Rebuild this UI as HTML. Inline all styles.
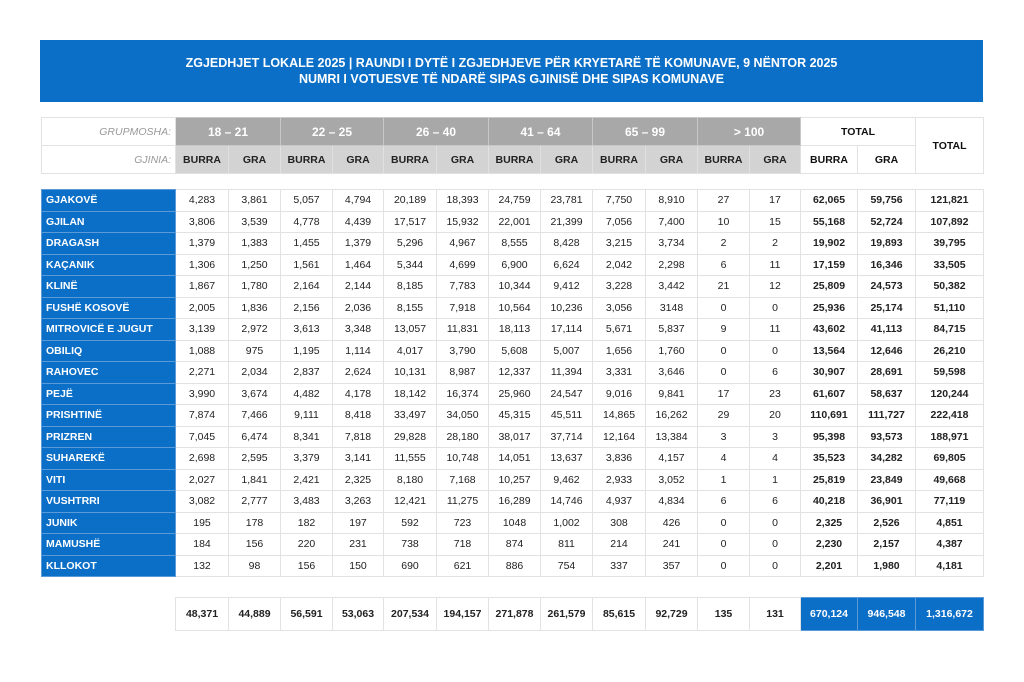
<!DOCTYPE html>
<html><head><meta charset="utf-8"><style>
body{margin:0;width:1024px;height:682px;background:#fff;font-family:"Liberation Sans",sans-serif;position:relative;overflow:hidden}
.title{position:absolute;left:40px;top:40px;width:943px;height:62px;background:#0b6fc7;color:#fff;font-weight:bold;font-size:12.5px;text-align:center;line-height:16px;box-sizing:border-box;padding-top:15px}
table{position:absolute;left:41px;border-collapse:collapse;table-layout:fixed;font-size:10.5px}
td{border:1px solid #e2e2e2;text-align:center;padding:0;overflow:hidden;white-space:nowrap}
.hd td{height:27px}
.g1{background:#a8a8a8;color:#fff;font-weight:bold;font-size:12px;border-color:#c8c8c8}
.g2{background:#d3d3d3;color:#222;font-weight:bold;border-color:#e0e0e0}
.lab{color:#999;font-style:italic;text-align:right;padding-right:4px}
.tb{font-weight:bold;color:#111}
.dt td{height:20.5px;color:#222}
.dt td.n{background:#0b6fc7;color:#fff;font-weight:bold;text-align:left;padding-left:4px;border-color:#5a9ad8}
.b{font-weight:bold}
.tot td{height:32px;font-weight:bold;color:#222}
.tot td.bl{background:#0b6fc7;color:#fff;border-color:#5a9ad8}
</style></head><body>
<div class="title">ZGJEDHJET LOKALE 2025 | RAUNDI I DYTË I ZGJEDHJEVE PËR KRYETARË TË KOMUNAVE, 9 NËNTOR 2025<br>NUMRI I VOTUESVE TË NDARË SIPAS GJINISË DHE SIPAS KOMUNAVE</div>
<table class="hd" style="top:117px">
<colgroup><col style="width:134px"><col style="width:53px"><col style="width:52px"><col style="width:52px"><col style="width:51px"><col style="width:53px"><col style="width:52px"><col style="width:52px"><col style="width:52px"><col style="width:53px"><col style="width:52px"><col style="width:52px"><col style="width:51px"><col style="width:57px"><col style="width:58px"><col style="width:68px"></colgroup>
<tr><td class="lab">GRUPMOSHA:</td><td class="g1" colspan="2">18 – 21</td><td class="g1" colspan="2">22 – 25</td><td class="g1" colspan="2">26 – 40</td><td class="g1" colspan="2">41 – 64</td><td class="g1" colspan="2">65 – 99</td><td class="g1" colspan="2">&gt; 100</td><td class="tb" colspan="2">TOTAL</td><td class="tb" rowspan="2">TOTAL</td></tr>
<tr><td class="lab">GJINIA:</td><td class="g2">BURRA</td><td class="g2">GRA</td><td class="g2">BURRA</td><td class="g2">GRA</td><td class="g2">BURRA</td><td class="g2">GRA</td><td class="g2">BURRA</td><td class="g2">GRA</td><td class="g2">BURRA</td><td class="g2">GRA</td><td class="g2">BURRA</td><td class="g2">GRA</td><td class="tb">BURRA</td><td class="tb">GRA</td></tr>
</table>
<table class="dt" style="top:189px">
<colgroup><col style="width:134px"><col style="width:53px"><col style="width:52px"><col style="width:52px"><col style="width:51px"><col style="width:53px"><col style="width:52px"><col style="width:52px"><col style="width:52px"><col style="width:53px"><col style="width:52px"><col style="width:52px"><col style="width:51px"><col style="width:57px"><col style="width:58px"><col style="width:68px"></colgroup>
<tr><td class="n">GJAKOVË</td><td>4,283</td><td>3,861</td><td>5,057</td><td>4,794</td><td>20,189</td><td>18,393</td><td>24,759</td><td>23,781</td><td>7,750</td><td>8,910</td><td>27</td><td>17</td><td class="b">62,065</td><td class="b">59,756</td><td class="b">121,821</td></tr>
<tr><td class="n">GJILAN</td><td>3,806</td><td>3,539</td><td>4,778</td><td>4,439</td><td>17,517</td><td>15,932</td><td>22,001</td><td>21,399</td><td>7,056</td><td>7,400</td><td>10</td><td>15</td><td class="b">55,168</td><td class="b">52,724</td><td class="b">107,892</td></tr>
<tr><td class="n">DRAGASH</td><td>1,379</td><td>1,383</td><td>1,455</td><td>1,379</td><td>5,296</td><td>4,967</td><td>8,555</td><td>8,428</td><td>3,215</td><td>3,734</td><td>2</td><td>2</td><td class="b">19,902</td><td class="b">19,893</td><td class="b">39,795</td></tr>
<tr><td class="n">KAÇANIK</td><td>1,306</td><td>1,250</td><td>1,561</td><td>1,464</td><td>5,344</td><td>4,699</td><td>6,900</td><td>6,624</td><td>2,042</td><td>2,298</td><td>6</td><td>11</td><td class="b">17,159</td><td class="b">16,346</td><td class="b">33,505</td></tr>
<tr><td class="n">KLINË</td><td>1,867</td><td>1,780</td><td>2,164</td><td>2,144</td><td>8,185</td><td>7,783</td><td>10,344</td><td>9,412</td><td>3,228</td><td>3,442</td><td>21</td><td>12</td><td class="b">25,809</td><td class="b">24,573</td><td class="b">50,382</td></tr>
<tr><td class="n">FUSHË KOSOVË</td><td>2,005</td><td>1,836</td><td>2,156</td><td>2,036</td><td>8,155</td><td>7,918</td><td>10,564</td><td>10,236</td><td>3,056</td><td>3148</td><td>0</td><td>0</td><td class="b">25,936</td><td class="b">25,174</td><td class="b">51,110</td></tr>
<tr><td class="n">MITROVICË E JUGUT</td><td>3,139</td><td>2,972</td><td>3,613</td><td>3,348</td><td>13,057</td><td>11,831</td><td>18,113</td><td>17,114</td><td>5,671</td><td>5,837</td><td>9</td><td>11</td><td class="b">43,602</td><td class="b">41,113</td><td class="b">84,715</td></tr>
<tr><td class="n">OBILIQ</td><td>1,088</td><td>975</td><td>1,195</td><td>1,114</td><td>4,017</td><td>3,790</td><td>5,608</td><td>5,007</td><td>1,656</td><td>1,760</td><td>0</td><td>0</td><td class="b">13,564</td><td class="b">12,646</td><td class="b">26,210</td></tr>
<tr><td class="n">RAHOVEC</td><td>2,271</td><td>2,034</td><td>2,837</td><td>2,624</td><td>10,131</td><td>8,987</td><td>12,337</td><td>11,394</td><td>3,331</td><td>3,646</td><td>0</td><td>6</td><td class="b">30,907</td><td class="b">28,691</td><td class="b">59,598</td></tr>
<tr><td class="n">PEJË</td><td>3,990</td><td>3,674</td><td>4,482</td><td>4,178</td><td>18,142</td><td>16,374</td><td>25,960</td><td>24,547</td><td>9,016</td><td>9,841</td><td>17</td><td>23</td><td class="b">61,607</td><td class="b">58,637</td><td class="b">120,244</td></tr>
<tr><td class="n">PRISHTINË</td><td>7,874</td><td>7,466</td><td>9,111</td><td>8,418</td><td>33,497</td><td>34,050</td><td>45,315</td><td>45,511</td><td>14,865</td><td>16,262</td><td>29</td><td>20</td><td class="b">110,691</td><td class="b">111,727</td><td class="b">222,418</td></tr>
<tr><td class="n">PRIZREN</td><td>7,045</td><td>6,474</td><td>8,341</td><td>7,818</td><td>29,828</td><td>28,180</td><td>38,017</td><td>37,714</td><td>12,164</td><td>13,384</td><td>3</td><td>3</td><td class="b">95,398</td><td class="b">93,573</td><td class="b">188,971</td></tr>
<tr><td class="n">SUHAREKË</td><td>2,698</td><td>2,595</td><td>3,379</td><td>3,141</td><td>11,555</td><td>10,748</td><td>14,051</td><td>13,637</td><td>3,836</td><td>4,157</td><td>4</td><td>4</td><td class="b">35,523</td><td class="b">34,282</td><td class="b">69,805</td></tr>
<tr><td class="n">VITI</td><td>2,027</td><td>1,841</td><td>2,421</td><td>2,325</td><td>8,180</td><td>7,168</td><td>10,257</td><td>9,462</td><td>2,933</td><td>3,052</td><td>1</td><td>1</td><td class="b">25,819</td><td class="b">23,849</td><td class="b">49,668</td></tr>
<tr><td class="n">VUSHTRRI</td><td>3,082</td><td>2,777</td><td>3,483</td><td>3,263</td><td>12,421</td><td>11,275</td><td>16,289</td><td>14,746</td><td>4,937</td><td>4,834</td><td>6</td><td>6</td><td class="b">40,218</td><td class="b">36,901</td><td class="b">77,119</td></tr>
<tr><td class="n">JUNIK</td><td>195</td><td>178</td><td>182</td><td>197</td><td>592</td><td>723</td><td>1048</td><td>1,002</td><td>308</td><td>426</td><td>0</td><td>0</td><td class="b">2,325</td><td class="b">2,526</td><td class="b">4,851</td></tr>
<tr><td class="n">MAMUSHË</td><td>184</td><td>156</td><td>220</td><td>231</td><td>738</td><td>718</td><td>874</td><td>811</td><td>214</td><td>241</td><td>0</td><td>0</td><td class="b">2,230</td><td class="b">2,157</td><td class="b">4,387</td></tr>
<tr><td class="n">KLLOKOT</td><td>132</td><td>98</td><td>156</td><td>150</td><td>690</td><td>621</td><td>886</td><td>754</td><td>337</td><td>357</td><td>0</td><td>0</td><td class="b">2,201</td><td class="b">1,980</td><td class="b">4,181</td></tr>
</table>
<table class="tot" style="top:597px;left:175px">
<colgroup><col style="width:53px"><col style="width:52px"><col style="width:52px"><col style="width:51px"><col style="width:53px"><col style="width:52px"><col style="width:52px"><col style="width:52px"><col style="width:53px"><col style="width:52px"><col style="width:52px"><col style="width:51px"><col style="width:57px"><col style="width:58px"><col style="width:68px"></colgroup>
<tr><td>48,371</td><td>44,889</td><td>56,591</td><td>53,063</td><td>207,534</td><td>194,157</td><td>271,878</td><td>261,579</td><td>85,615</td><td>92,729</td><td>135</td><td>131</td><td class="bl">670,124</td><td class="bl">946,548</td><td class="bl">1,316,672</td></tr>
</table>
</body></html>
